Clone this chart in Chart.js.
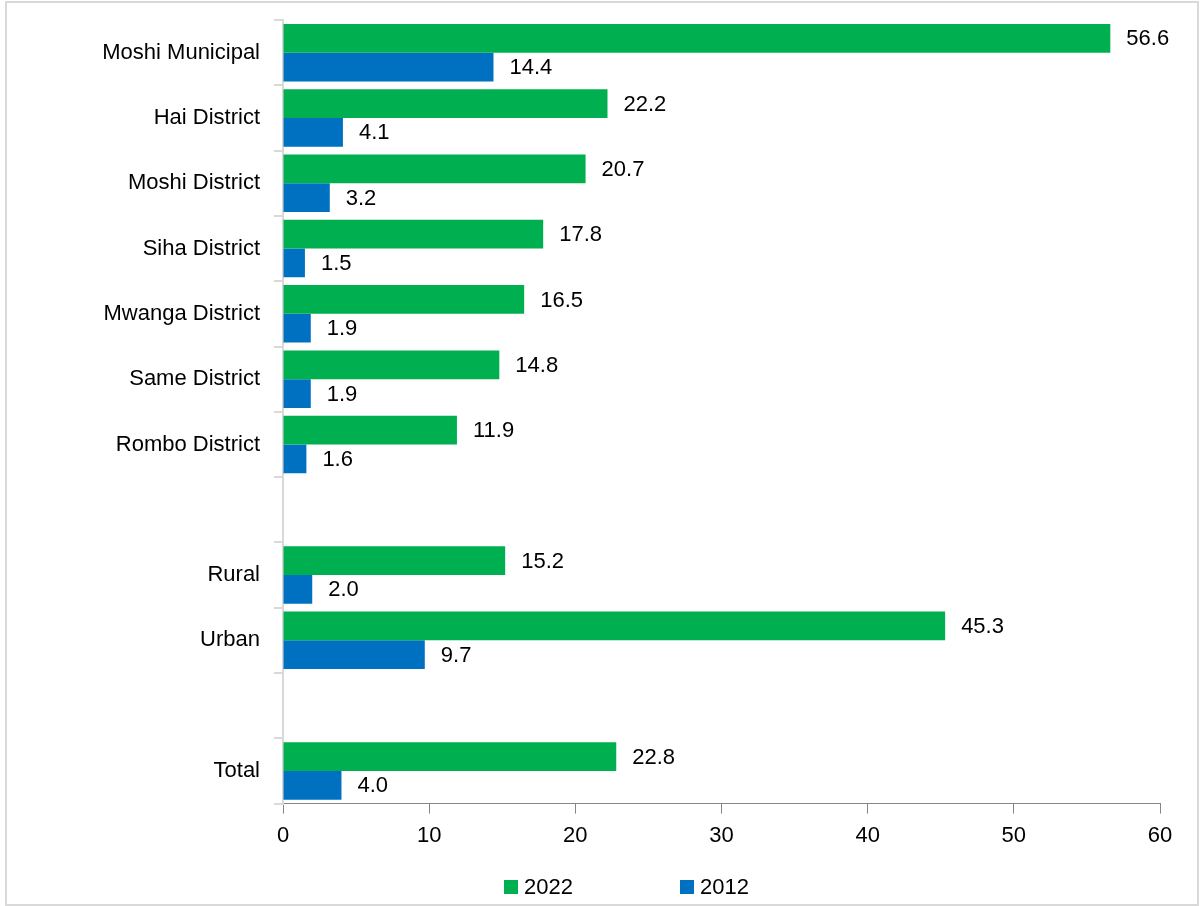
<!DOCTYPE html>
<html><head><meta charset="utf-8">
<script src="https://cdn.jsdelivr.net/npm/chart.js@4/dist/chart.umd.min.js"></script>
<style>
html,body{margin:0;padding:0;background:#fff}
#wrap{position:relative;width:1200px;height:906px}
#legend{position:absolute;top:874px;left:0;width:1200px;height:26px;font:22px 'Liberation Sans',Arial,sans-serif;color:#000}
.li{position:absolute;top:0;height:26px;line-height:26px;white-space:nowrap}
.li span.sw{display:inline-block;width:14px;height:14px;vertical-align:middle;margin-right:6px;position:relative;top:-1px}
</style>
</head><body><div id="wrap"><canvas id="c"></canvas><div id="legend"></div></div>
<script>
const categories = ["Moshi Municipal","Hai District","Moshi District","Siha District","Mwanga District","Same District","Rombo District","","Rural","Urban","","Total"];
const values2022 = [56.6,22.2,20.7,17.8,16.5,14.8,11.9,null,15.2,45.3,null,22.8];
const values2012 = [14.4,4.1,3.2,1.5,1.9,1.9,1.6,null,2.0,9.7,null,4.0];
const seriesNames = ["2022","2012"];
const seriesColors = ["#00B050","#0070C0"];
const xTicks = [0,10,20,30,40,50,60];

const FONT = "'Liberation Sans', Arial, sans-serif";

const borderPlugin = {
  id: 'frame',
  beforeDraw(chart){
    const ctx = chart.ctx;
    ctx.save();
    ctx.fillStyle = '#fff';
    ctx.fillRect(0,0,chart.width,chart.height);
    ctx.strokeStyle = '#d9d9d9';
    ctx.lineWidth = 2;
    ctx.strokeRect(6,2,1192,903);
    ctx.restore();
  }
};
const valueLabels = {
  id: 'valueLabels',
  afterDatasetsDraw(chart){
    const ctx = chart.ctx;
    ctx.save();
    ctx.font = "22px " + FONT;
    ctx.fillStyle = '#000';
    ctx.textBaseline = 'middle';
    ctx.textAlign = 'left';
    chart.data.datasets.forEach((ds,i)=>{
      const meta = chart.getDatasetMeta(i);
      meta.data.forEach((el,j)=>{
        const v = ds.data[j];
        if (v === null || v === undefined) return;
        ctx.fillText(v.toFixed(1), el.x + 16, el.y + 1);
      });
    });
    ctx.restore();
  }
};

new Chart(document.getElementById('c'), {
  type: 'bar',
  data: {
    labels: categories,
    datasets: [
      {label: seriesNames[0], data: values2022, backgroundColor: seriesColors[0], barPercentage: 1.0, categoryPercentage: 0.88},
      {label: seriesNames[1], data: values2012, backgroundColor: seriesColors[1], barPercentage: 1.0, categoryPercentage: 0.88}
    ]
  },
  options: {
    indexAxis: 'y',
    responsive: true,
    maintainAspectRatio: false,
    animation: false,
    layout: {padding: {left: 60, right: 40, top: 20, bottom: 48}},
    plugins: {
      legend: {display: false},
      tooltip: {enabled: false}
    },
    scales: {
      x: {
        min: 0, max: 60,
        afterBuildTicks(axis){ axis.ticks = xTicks.map(v=>({value:v})); },
        ticks: {font: {size: 22, family: FONT}, color: '#000', padding: 9, maxRotation: 0},
        grid: {drawOnChartArea: false, tickLength: 10, color: '#868686', lineWidth: 1},
        border: {color: '#868686', width: 1}
      },
      y: {
        offset: true,
        afterFit(axis){ axis.width = 223; axis.paddingTop = 0; axis.paddingBottom = 0; },
        ticks: {font: {size: 22, family: FONT}, color: '#000', padding: 14, autoSkip: false},
        grid: {offset: true, drawOnChartArea: false, tickLength: 9, color: '#d9d9d9', lineWidth: 2},
        border: {color: '#d9d9d9', width: 2}
      }
    }
  },
  plugins: [borderPlugin, valueLabels]
});

// HTML legend built from the series arrays
const legendPos = [504, 680];
const lg = document.getElementById('legend');
seriesNames.forEach((n,i)=>{
  const d = document.createElement('div');
  d.className = 'li';
  d.style.left = legendPos[i] + 'px';
  d.innerHTML = '<span class="sw" style="background:' + seriesColors[i] + '"></span>' + n;
  lg.appendChild(d);
});
</script></body></html>
